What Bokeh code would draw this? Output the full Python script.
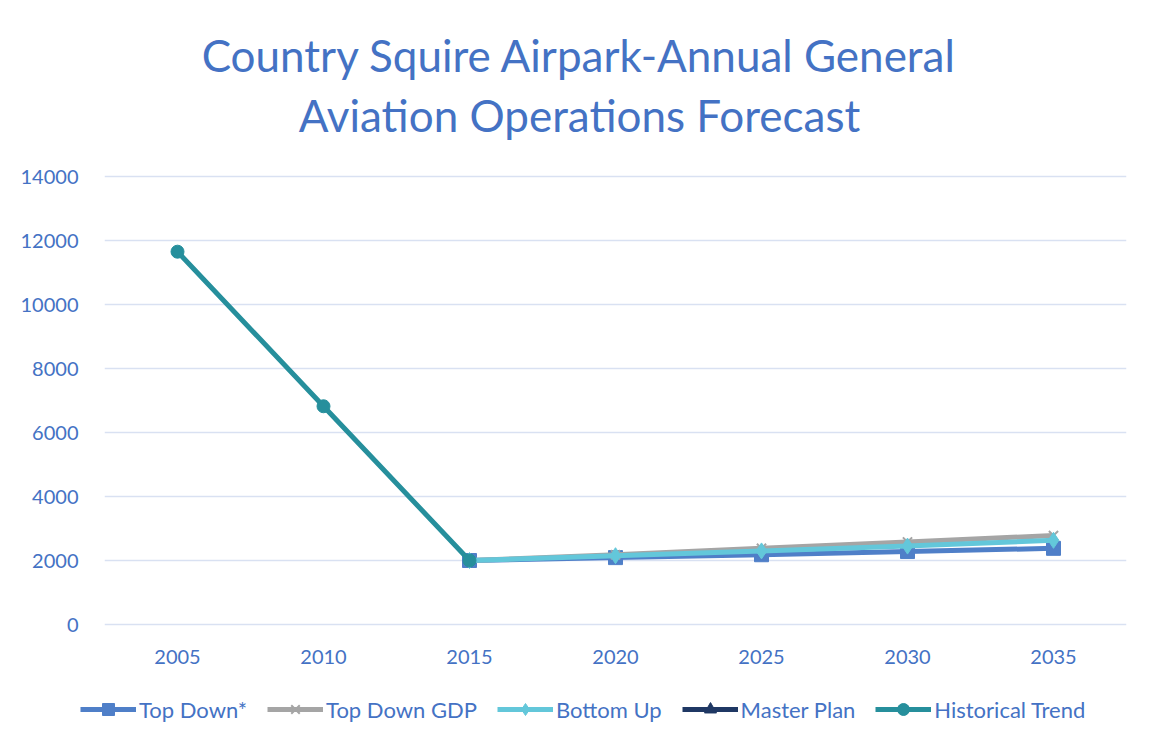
from bokeh.plotting import figure
from bokeh.layouts import column, row
from bokeh.models import (FactorRange, Range1d, FixedTicker, Legend, LegendItem, Label)
from bokeh.embed import file_html
from bokeh.resources import INLINE

years = ["2005", "2010", "2015", "2020", "2025", "2030", "2035"]
forecast_years = ["2015", "2020", "2025", "2030", "2035"]
historical_years = ["2005", "2010", "2015"]

top_down = [2000, 2090, 2180, 2280, 2380]
top_down_gdp = [2000, 2180, 2380, 2580, 2780]
bottom_up = [2000, 2150, 2300, 2450, 2630]
master_plan = [float("nan")]
master_plan_years = ["2015"]
historical = [11650, 6820, 2000]

y_ticks = [0, 2000, 4000, 6000, 8000, 10000, 12000, 14000]

title_lines = ["Country Squire Airpark-Annual General", "Aviation Operations Forecast"]
series_names = ["Top Down*", "Top Down GDP", "Bottom Up", "Master Plan", "Historical Trend"]

FONT = "Lato"
BLUE_TXT = "#4472C4"
W = 1151

c_td = "#4F7FC8"
c_gdp = "#A5A5A5"
c_bu = "#63C7DA"
c_mp = "#1F3864"
c_hist = "#268F9C"

# ---- title strip ----
pt = figure(width=W, height=150, x_range=Range1d(0, W), y_range=Range1d(0, 150),
            output_backend="svg", toolbar_location=None, min_border=0)
pt.axis.visible = False
pt.grid.visible = False
pt.outline_line_color = None
for txt, yy in zip(title_lines, [96, 36]):
    pt.add_layout(Label(x=475, y=yy, x_units="screen", y_units="screen", text=txt,
                        text_align="center", text_baseline="middle", text_font=FONT,
                        text_font_size="44px", text_color=BLUE_TXT))

# ---- main chart ----
p = figure(width=W, height=534, x_range=FactorRange(*years), y_range=Range1d(-125, 14125),
           output_backend="svg", toolbar_location=None,
           min_border_left=104, min_border_right=25, min_border_bottom=56, min_border_top=22)
p.outline_line_color = None

p.yaxis.ticker = FixedTicker(ticks=y_ticks)
for ax in (p.xaxis, p.yaxis):
    ax.axis_line_color = None
    ax.major_tick_line_color = None
    ax.minor_tick_line_color = None
    ax.major_label_text_font = FONT
    ax.major_label_text_font_size = "20px"
    ax.major_label_text_color = BLUE_TXT
p.yaxis.major_label_standoff = 20
p.xaxis.major_label_standoff = 15
p.xgrid.grid_line_color = None
p.ygrid.grid_line_color = "#D9E1F2"
p.ygrid.grid_line_width = 1.5

p.line(forecast_years, top_down, line_color=c_td, line_width=5)
p.scatter(forecast_years, top_down, marker="square", size=14, fill_color=c_td, line_color=c_td)
p.line(forecast_years, top_down_gdp, line_color=c_gdp, line_width=5)
p.scatter(forecast_years, top_down_gdp, marker="x", size=13, line_color=c_gdp, line_width=2)
p.line(forecast_years, bottom_up, line_color=c_bu, line_width=5)
p.scatter(forecast_years, bottom_up, marker="diamond", size=16, fill_color=c_bu, line_color=c_bu)
p.line(master_plan_years, master_plan, line_color=c_mp, line_width=5)
p.scatter(master_plan_years, master_plan, marker="triangle", size=13, fill_color=c_mp, line_color=c_mp)
p.line(historical_years, historical, line_color=c_hist, line_width=5)
p.scatter(historical_years, historical, marker="circle", size=13, fill_color=c_hist, line_color=c_hist)

# ---- legend strip ----
pl = figure(width=W, height=60, x_range=Range1d(0, 1), y_range=Range1d(0, 1),
            output_backend="svg", toolbar_location=None, min_border=0)
pl.axis.visible = False
pl.grid.visible = False
pl.outline_line_color = None
nan = [float("nan")]
styles = [(c_td, "square", 14), (c_gdp, "x", 13), (c_bu, "diamond", 16),
          (c_mp, "triangle", 13), (c_hist, "circle", 13)]
items = []
for name, (col, mk, sz) in zip(series_names, styles):
    rl = pl.line(nan, nan, line_color=col, line_width=5)
    rm = pl.scatter(nan, nan, marker=mk, size=sz, fill_color=col, line_color=col,
                    line_width=2 if mk == "x" else 1)
    items.append(LegendItem(label=name, renderers=[rl, rm]))

legend = Legend(items=items, orientation="horizontal", location=(80, 20))
legend.label_text_font = FONT
legend.label_text_font_size = "22px"
legend.label_text_color = BLUE_TXT
legend.glyph_width = 56
legend.glyph_height = 30
legend.label_standoff = 3
legend.spacing = 20
legend.padding = 0
legend.margin = 0
legend.border_line_color = None
legend.background_fill_alpha = 0
pl.add_layout(legend)

layout = column(pt, p, row(pl), spacing=0)
open("out.html", "w").write(file_html(layout, INLINE))
